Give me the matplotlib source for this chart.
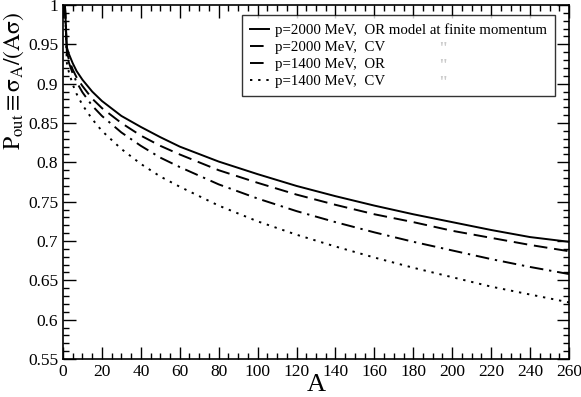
import matplotlib
matplotlib.use("Agg")
import matplotlib.pyplot as plt
from matplotlib.ticker import MultipleLocator

plt.rcParams['font.family'] = ['Liberation Serif', 'DejaVu Serif']
plt.rcParams['mathtext.fontset'] = 'stix'

A = [1, 2, 3, 5, 7, 10, 15, 20, 30, 40, 50, 60, 80, 100, 120, 140, 160, 180, 200, 220, 240, 260]

p2000_OR = [1.000, 0.946, 0.938, 0.926, 0.916, 0.905, 0.890, 0.878, 0.859, 0.845, 0.832, 0.820,
            0.801, 0.785, 0.770, 0.757, 0.745, 0.734, 0.724, 0.714, 0.705, 0.699]
p2000_CV = [1.000, 0.940, 0.931, 0.918, 0.908, 0.897, 0.881, 0.869, 0.850, 0.834, 0.821, 0.810,
            0.790, 0.774, 0.759, 0.746, 0.734, 0.724, 0.713, 0.704, 0.695, 0.687]
p1400_OR = [1.000, 0.936, 0.927, 0.913, 0.902, 0.889, 0.872, 0.859, 0.838, 0.821, 0.806, 0.794,
            0.772, 0.754, 0.738, 0.724, 0.711, 0.699, 0.688, 0.677, 0.667, 0.658]
p1400_CV = [1.000, 0.926, 0.915, 0.899, 0.887, 0.873, 0.855, 0.840, 0.817, 0.798, 0.782, 0.769,
            0.745, 0.725, 0.708, 0.693, 0.679, 0.666, 0.654, 0.642, 0.632, 0.622]

labels = ["p=2000 MeV,  OR model at finite momentum",
          "p=2000 MeV,  CV",
          "p=1400 MeV,  OR",
          "p=1400 MeV,  CV"]

yticks = [0.55, 0.6, 0.65, 0.7, 0.75, 0.8, 0.85, 0.9, 0.95, 1.0]
yticklabels = ['0.55', '0.6', '0.65', '0.7', '0.75', '0.8', '0.85', '0.9', '0.95', '1']

fig = plt.figure(figsize=(5.81, 3.97), dpi=100)
ax = fig.add_axes([0.1084, 0.0957, 0.8709, 0.8917])

lw = 1.4
ax.plot(A, p2000_OR, color='black', lw=lw, linestyle='-', label=labels[0])
ax.plot(A, p2000_CV, color='black', lw=lw, linestyle=(0, (7, 3.5)), label=labels[1])
ax.plot(A, p1400_OR, color='black', lw=lw, linestyle=(0, (7, 3, 1.2, 3)), label=labels[2])
ax.plot(A, p1400_CV, color='black', lw=lw, linestyle=(0, (1.2, 3)), label=labels[3])

ax.set_xlim(0, 260)
ax.set_ylim(0.55, 1.0)
ax.xaxis.set_major_locator(MultipleLocator(20))
ax.xaxis.set_minor_locator(MultipleLocator(5))
ax.set_yticks(yticks)
ax.set_yticklabels(yticklabels)
ax.yaxis.set_minor_locator(MultipleLocator(0.01))
ax.tick_params(which='both', direction='in', top=True, right=True, labelsize=12.5, width=1.0)
ax.tick_params(which='major', length=9)
ax.tick_params(which='minor', length=4.5)
for s in ax.spines.values():
    s.set_linewidth(1.2)

ax.set_xlabel('A', fontsize=19, labelpad=-4)
ax.set_ylabel(r'$\mathrm{P_{out}\equiv\sigma_A/(A\sigma)}$', fontsize=17)
ax.yaxis.set_label_coords(-0.074, 0.785)

leg = ax.legend(loc='upper right', bbox_to_anchor=(0.972, 0.972), fontsize=10.75,
                frameon=True, fancybox=False, shadow=False, handlelength=1.25,
                handletextpad=0.4, borderpad=0.55, labelspacing=0.24, borderaxespad=0)
leg.get_frame().set_edgecolor('black')
leg.get_frame().set_linewidth(1.0)

for yy in [0.876, 0.828, 0.780]:
    ax.text(0.751, yy, '"', transform=ax.transAxes, fontsize=12, ha='center', va='center',
            color='black', fontweight='bold')

fig.savefig('out.png', dpi=100)
